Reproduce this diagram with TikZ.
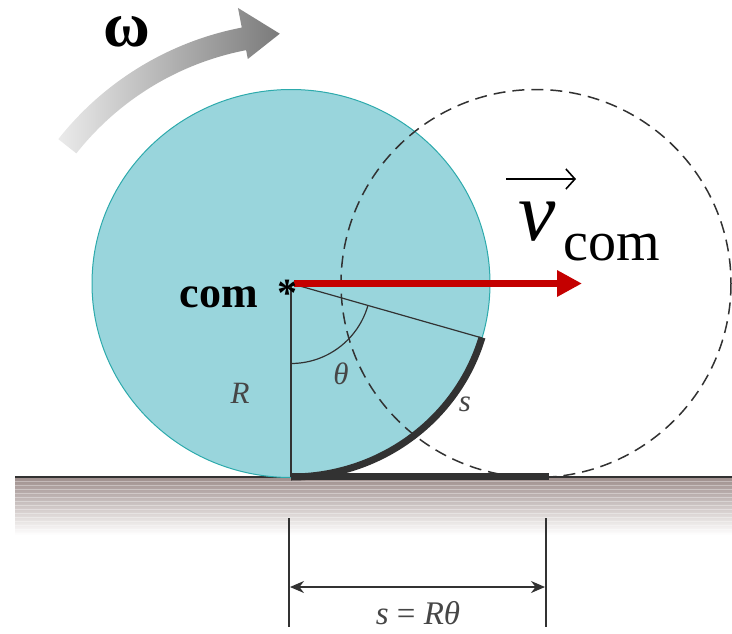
\documentclass[tikz,border=0pt]{standalone}
\usepackage{fontspec}
\setmainfont{Liberation Serif}
\usetikzlibrary{arrows.meta,calc}
\definecolor{wheel}{RGB}{153,213,220}
\definecolor{wheeledge}{RGB}{45,170,172}
\definecolor{ink}{RGB}{50,50,50}
\definecolor{lblgray}{RGB}{70,70,70}
\definecolor{redarrow}{RGB}{196,0,0}
\definecolor{groundtop}{RGB}{158,142,140}
\definecolor{groundmid}{RGB}{205,192,190}
\tikzset{
  thinline/.style={ink, line width=1.2pt},
  thickline/.style={ink, line width=7pt},
  glabel/.style={lblgray, inner sep=0pt, font=\itshape\fontsize{31}{31}\selectfont},
  dimarrow/.style={ink, line width=1.5pt, {Stealth[length=14pt,width=12pt]}-{Stealth[length=14pt,width=12pt]}},
}
\begin{document}
\begin{tikzpicture}[x=1pt,y=-1pt]
\useasboundingbox (0,0) rectangle (732,633);
\clip (0,0) rectangle (732,633);

% coordinates
\coordinate (com) at (291,283.5);
\coordinate (ctr2) at (536,283.5);
\coordinate (G) at (291,477);
\coordinate (Gend) at (549,476);
\coordinate (P) at ($(com)+(16.3:199 and 194)$);
\coordinate (C) at (300,330);

% ground
\shade[top color=groundtop, middle color=groundmid, bottom color=white] (15,477) rectangle (732,535);
\foreach \yy in {481,485,...,533} {
  \draw[white, opacity=0.35, line width=0.8pt] (15,\yy) -- (732,\yy);
}
\draw[ink, line width=1.2pt] (15,477) -- (732,477);

% rotation arrow
\shade[left color=black!8, right color=black!52]
  ($(C)+(-141.7:285)$) arc[start angle=-141.7, end angle=-100.9, radius=285]
  -- ($(C)+(-100.9:276)$) -- ($(C)+(-93.9:297)$) -- ($(C)+(-100.9:328)$)
  -- ($(C)+(-100.9:308)$) arc[start angle=-100.9, end angle=-141.7, radius=308]
  -- cycle;
\node[font=\bfseries\fontsize{64}{64}\selectfont, inner sep=0pt, anchor=base, text height=32pt, text depth=0pt] (omega) at (127,46) {ω};

% wheel
\draw[fill=wheel, draw=wheeledge, line width=1pt] (com) ellipse[x radius=199, y radius=194];

% radius lines and angle
\draw[thinline] (com) -- (G);
\draw[thinline] (com) -- (P);
\draw[thinline] ($(com)+(90:80)$) arc[start angle=90, end angle=15.9, radius=80];

% rolled arc and ground segment
\draw[thickline] (G) arc[start angle=90, end angle=16.3, x radius=199, y radius=194];
\draw[thickline] (G |- Gend) -- (Gend);

% dashed displaced wheel
\draw[ink, line width=1.5pt, dash pattern=on 12pt off 7pt] (ctr2) ellipse[x radius=195, y radius=194];

% velocity arrow
\coordinate (vtip) at (582,283.5);
\draw[redarrow, line width=7pt, -{Triangle[length=25pt,width=25pt]}] ($(com)+(3,0)$) -- (vtip);

% labels
\node[font=\bfseries\fontsize{44}{44}\selectfont, inner sep=0pt, anchor=base] (comlbl) at (219,307) {com};
\node[font=\bfseries\fontsize{40}{40}\selectfont, inner sep=0pt, anchor=base] (star) at (287,306) {*};
\node[inner sep=0pt, anchor=base west, font=\itshape\fontsize{84}{84}\selectfont] (v) at (518,240) {v};
\node[inner sep=0pt, anchor=base west, font=\fontsize{56}{56}\selectfont] (sub) at (563,260) {com};
\coordinate (va) at (506,179);
\coordinate (vb) at (576,179);
\draw[black, line width=1.6pt, -{Straight Barb[length=9pt,width=20pt]}] (va) -- (vb);

\node[glabel] (Rl) at (240,393) {R};
\node[glabel] (thl) at (341,374) {θ};
\node[glabel] (sl) at (465,404) {s};

% dimension
\coordinate (d1a) at (289,518);
\coordinate (d1b) at (289,627);
\coordinate (d2a) at (546,518);
\coordinate (d2b) at (546,627);
\draw[thinline] (d1a) -- (d1b);
\draw[thinline] (d2a) -- (d2b);
\coordinate (dl) at (290,587);
\coordinate (dr) at (545,587);
\draw[dimarrow] (dl) -- (dr);
\node[lblgray, inner sep=0pt, font=\fontsize{33}{33}\selectfont, anchor=base] (eq) at (418,624) {\textit{s} = \textit{Rθ}};
\end{tikzpicture}
\end{document}
